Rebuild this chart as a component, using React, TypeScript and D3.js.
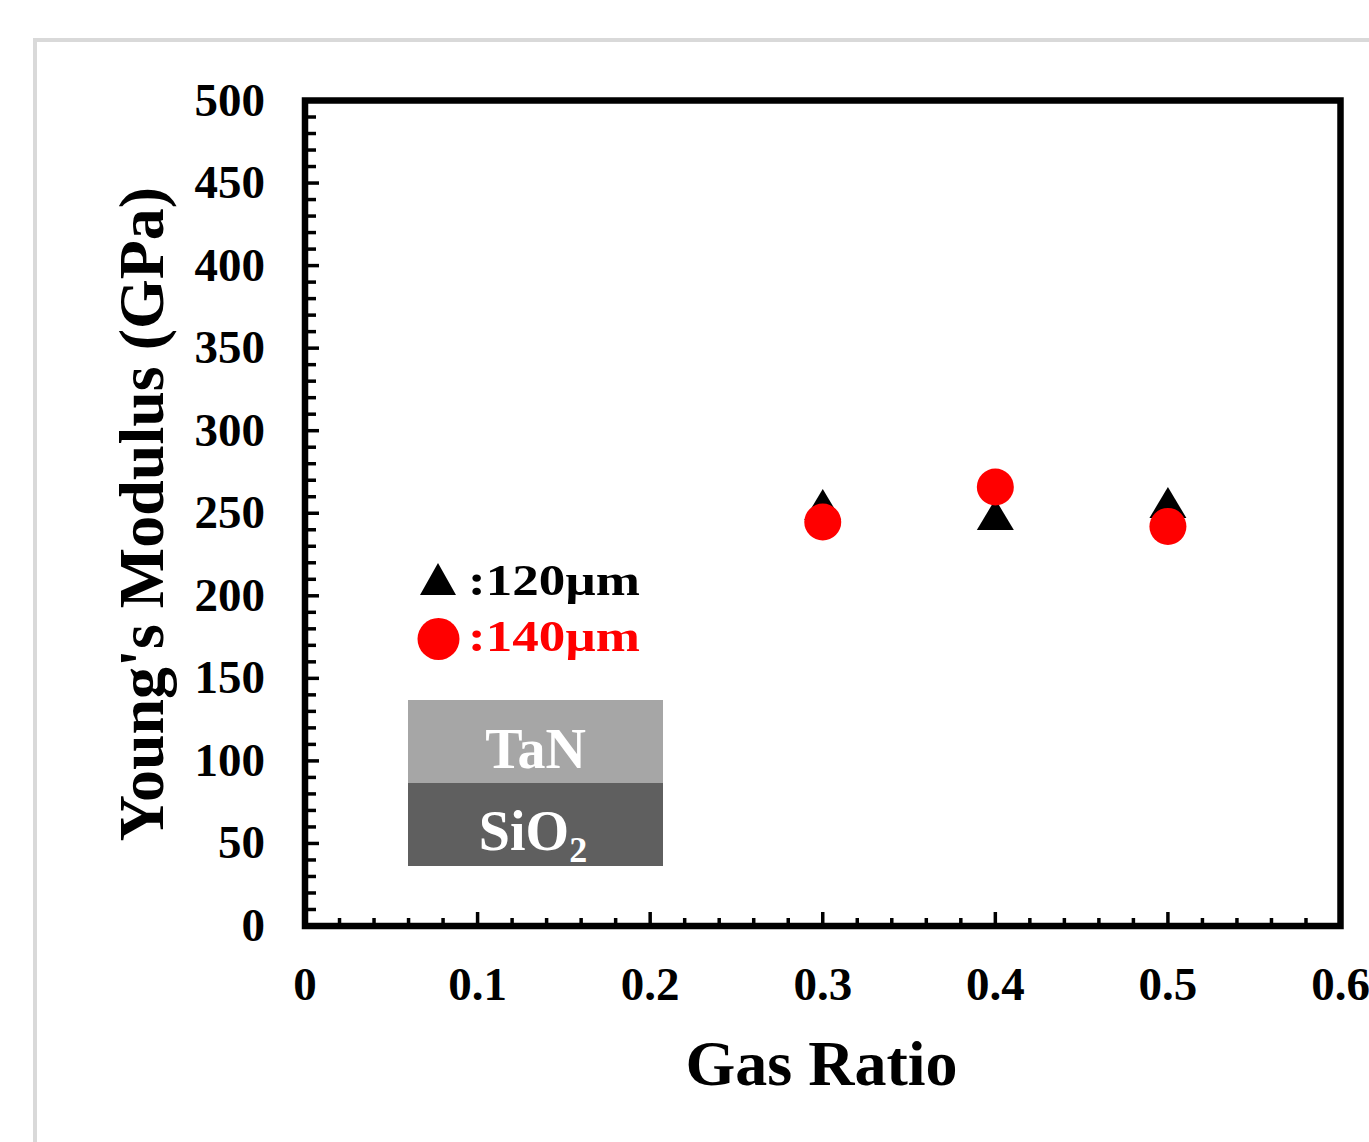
import React from "react";
import * as d3 from "d3";

const gasRatios = [0.3, 0.4, 0.5];
const modulus120 = [255.3, 249.2, 256.5];
const modulus140 = [244.7, 265.9, 242.0];
const xTicks = [0, 0.1, 0.2, 0.3, 0.4, 0.5, 0.6];
const yTicks = [0, 50, 100, 150, 200, 250, 300, 350, 400, 450, 500];
const xLabel = "Gas Ratio";
const yLabel = "Young's Modulus (GPa)";
const legend120 = ":120µm";
const legend140 = ":140µm";

const FONT = "'Liberation Serif', 'Times New Roman', serif";

export default function App() {
  const x = d3.scaleLinear().domain([0, 0.6]).range([305, 1340.5]);
  const y = d3.scaleLinear().domain([0, 500]).range([926, 100.5]);

  const yMinor = d3.range(0, 501, 10).filter((v) => v % 50 !== 0);
  const xMinor = d3.range(0, 61, 2).map((v) => v / 100).filter((v) => Math.round(v * 100) % 10 !== 0);

  const tri = (cx: number, cy: number, w: number, h: number) => {
    const p = d3.path();
    p.moveTo(cx, cy - h / 2);
    p.lineTo(cx + w / 2, cy + h / 2);
    p.lineTo(cx - w / 2, cy + h / 2);
    p.closePath();
    return p.toString();
  };

  return (
    <svg
      width={1369}
      height={1142}
      style={{ position: "absolute", left: 0, top: 0, background: "#fff" }}
    >
      <rect x={35} y={40} width={1400} height={1200} fill="#fff" stroke="#d9d9d9" strokeWidth={4} />

      {/* minor ticks */}
      {yMinor.map((v) => (
        <line key={"ym" + v} x1={x(0)} x2={x(0) + 11} y1={y(v)} y2={y(v)} stroke="#000" strokeWidth={3.5} />
      ))}
      {yTicks.map((v) => (
        <line key={"yM" + v} x1={x(0)} x2={x(0) + 14} y1={y(v)} y2={y(v)} stroke="#000" strokeWidth={3.5} />
      ))}
      {xMinor.map((v) => (
        <line key={"xm" + v} x1={x(v)} x2={x(v)} y1={y(0)} y2={y(0) - 8} stroke="#000" strokeWidth={3.5} />
      ))}
      {xTicks.map((v) => (
        <line key={"xM" + v} x1={x(v)} x2={x(v)} y1={y(0)} y2={y(0) - 14} stroke="#000" strokeWidth={3.5} />
      ))}

      <rect
        x={x(0)}
        y={y(500)}
        width={x(0.6) - x(0)}
        height={y(0) - y(500)}
        fill="none"
        stroke="#000"
        strokeWidth={6.5}
      />

      {/* tick labels */}
      {yTicks.map((v) => (
        <text
          key={"yl" + v}
          x={265}
          y={y(v) + 15}
          textAnchor="end"
          fontFamily={FONT}
          fontWeight="bold"
          fontSize={47}
          fill="#000"
        >
          {v}
        </text>
      ))}
      {xTicks.map((v) => (
        <text
          key={"xl" + v}
          x={x(v)}
          y={1000}
          textAnchor="middle"
          fontFamily={FONT}
          fontWeight="bold"
          fontSize={47}
          fill="#000"
        >
          {d3.format("")(v)}
        </text>
      ))}

      {/* axis titles */}
      <text x={821.5} y={1085} textAnchor="middle" fontFamily={FONT} fontWeight="bold" fontSize={64} fill="#000">
        {xLabel}
      </text>
      <text
        transform={`translate(163,514) rotate(-90)`}
        textAnchor="middle"
        fontFamily={FONT}
        fontWeight="bold"
        fontSize={64}
        fill="#000"
      >
        {yLabel}
      </text>

      {/* data */}
      {gasRatios.map((g, i) => (
        <path key={"t" + i} d={tri(x(g), y(modulus120[i]), 37, 31)} fill="#000" />
      ))}
      {gasRatios.map((g, i) => (
        <circle key={"c" + i} cx={x(g)} cy={y(modulus140[i])} r={18.5} fill="#ff0000" />
      ))}

      {/* legend */}
      <path d={tri(438, 579, 36, 32)} fill="#000" />
      <text
        x={468}
        y={595}
        fontFamily={FONT}
        fontWeight="bold"
        fontSize={44}
        fill="#000"
        textLength={172}
        lengthAdjust="spacingAndGlyphs"
      >
        {legend120}
      </text>
      <circle cx={438.5} cy={639} r={21} fill="#ff0000" />
      <text
        x={468}
        y={651}
        fontFamily={FONT}
        fontWeight="bold"
        fontSize={44}
        fill="#ff0000"
        textLength={172}
        lengthAdjust="spacingAndGlyphs"
      >
        {legend140}
      </text>

      {/* inset layers */}
      <rect x={408} y={700} width={255} height={83} fill="#a6a6a6" />
      <rect x={408} y={783} width={255} height={83} fill="#5f5f5f" />
      <text x={535.5} y={768} textAnchor="middle" fontFamily={FONT} fontWeight="bold" fontSize={56} fill="#fff">
        TaN
      </text>
      <text x={533} y={850} textAnchor="middle" fontFamily={FONT} fontWeight="bold" fontSize={56} fill="#fff">
        SiO
        <tspan fontSize={36} dy={12}>
          2
        </tspan>
      </text>
    </svg>
  );
}
